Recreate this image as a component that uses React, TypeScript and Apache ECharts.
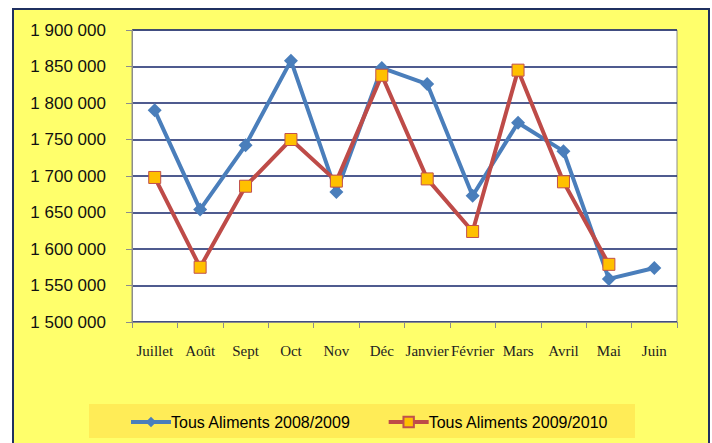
import React, { useEffect, useRef } from "react";
import * as echarts from "echarts";

const categories = ["Juillet", "Août", "Sept", "Oct", "Nov", "Déc", "Janvier", "Février", "Mars", "Avril", "Mai", "Juin"];
const serie2008 = [1790000, 1654000, 1742000, 1858000, 1678000, 1848000, 1826000, 1673000, 1773000, 1734000, 1559000, 1574000];
const serie2009 = [1698000, 1575000, 1686000, 1750000, 1693000, 1838000, 1696000, 1624000, 1845000, 1692000, 1579000, null];
const seriesNames = ["Tous Aliments 2008/2009", "Tous Aliments 2009/2010"];

function fmt(v: number) {
  return String(v).replace(/\B(?=(\d{3})+(?!\d))/g, " ");
}

export default function App() {
  const ref = useRef<HTMLDivElement>(null);
  useEffect(() => {
    document.body.style.margin = "0";
    const chart = echarts.init(ref.current!, undefined, { renderer: "svg" });
    chart.setOption({
      animation: false,
      backgroundColor: "#ffffff",
      graphic: [
        {
          type: "rect",
          z: -10,
          shape: { x: 13, y: 9, width: 696, height: 445 },
          style: { fill: "#FFFF6B", stroke: "#1F3060", lineWidth: 2 },
        },
        {
          type: "rect",
          z: -5,
          shape: { x: 89, y: 404, width: 546, height: 34 },
          style: { fill: "#FFEC57" },
        },
      ],
      grid: {
        left: 132,
        right: 35,
        top: 30,
        bottom: 121,
        show: true,
        backgroundColor: "#ffffff",
        borderColor: "#8C8C8C",
        borderWidth: 1,
      },
      legend: {
        left: 124,
        top: 409,
        itemWidth: 40,
        itemHeight: 13,
        itemGap: 36,
        data: seriesNames,
        lineStyle: { width: 4 },
        textStyle: {
          fontFamily: "Liberation Sans, sans-serif",
          fontSize: 16,
          color: "#000",
          padding: [0, 0, 0, -5],
        },
      },
      xAxis: {
        type: "category",
        data: categories,
        boundaryGap: true,
        axisLine: { show: true, lineStyle: { color: "#8C8C8C", width: 1 } },
        axisTick: { show: true, length: 6, lineStyle: { color: "#8C8C8C" } },
        axisLabel: {
          interval: 0,
          margin: 21,
          fontFamily: "Liberation Serif, serif",
          fontSize: 15,
          color: "#222",
        },
        splitLine: { show: false },
      },
      yAxis: {
        type: "value",
        min: 1500000,
        max: 1900000,
        interval: 50000,
        axisLine: { show: true, lineStyle: { color: "#8C8C8C", width: 1 } },
        axisTick: { show: true, length: 6, lineStyle: { color: "#8C8C8C" } },
        axisLabel: {
          margin: 26,
          formatter: (v: number) => fmt(v),
          fontFamily: "Liberation Sans, sans-serif",
          fontSize: 17,
          color: "#111",
        },
        splitLine: { show: true, lineStyle: { color: "#14246A", width: 1.5 } },
      },
      series: [
        {
          name: seriesNames[0],
          type: "line",
          data: serie2008,
          symbol: "diamond",
          symbolSize: 14,
          lineStyle: { color: "#4A7EBB", width: 4 },
          itemStyle: { color: "#4A7EBB" },
        },
        {
          name: seriesNames[1],
          type: "line",
          data: serie2009,
          symbol: "rect",
          symbolSize: 12,
          lineStyle: { color: "#BE4B48", width: 4 },
          itemStyle: { color: "#FFC000", borderColor: "#C0504D", borderWidth: 1 },
        },
      ],
    });
    return () => chart.dispose();
  }, []);
  return <div ref={ref} style={{ width: 712, height: 443 }} />;
}
